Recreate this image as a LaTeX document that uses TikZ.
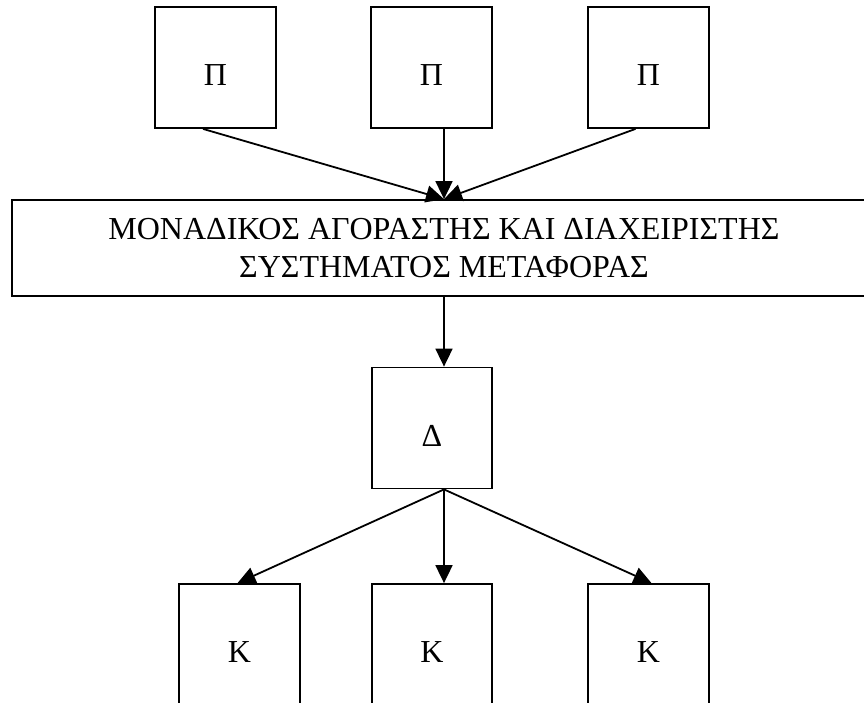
\documentclass[tikz,border=0pt]{standalone}
\usepackage{fontspec}
\setmainfont{Liberation Serif}
\usetikzlibrary{arrows.meta}
\tikzset{
  boxAll/.style={draw, line width=1.8pt, inner sep=0pt, align=center},
  boxSq/.style={minimum width=121pt, minimum height=121pt, font=\fontsize{32}{38}\selectfont, text height=36pt, text depth=0pt},
  boxMid/.style={minimum width=120pt},
  boxWide/.style={minimum width=864pt, minimum height=96pt, font=\fontsize{32}{38}\selectfont},
  link/.style={line width=1.8pt, -{Triangle[length=18pt,width=17pt]}}
}

\begin{document}
\begin{tikzpicture}[x=1pt, y=-1pt]
  \useasboundingbox (0,0) rectangle (864,702);
  \clip (0,0) rectangle (864,702);

  \node[boxAll, boxSq] (P1) at (215.5,67.5) {Π};
  \node[boxAll, boxSq] (P2) at (431.5,67.5) {Π};
  \node[boxAll, boxSq] (P3) at (648.5,67.5) {Π};

  \node[boxAll, boxWide] (MB) at (444,248) {ΜΟΝΑΔΙΚΟΣ ΑΓΟΡΑΣΤΗΣ ΚΑΙ ΔΙΑΧΕΙΡΙΣΤΗΣ\\ΣΥΣΤΗΜΑΤΟΣ ΜΕΤΑΦΟΡΑΣ};

  \node[boxAll, boxSq, boxMid] (D) at (432,428) {Δ};

  \node[boxAll, boxSq] (K1) at (239.5,644.5) {Κ};
  \node[boxAll, boxSq, boxMid] (K2) at (432,644.5) {Κ};
  \node[boxAll, boxSq] (K3) at (648.5,644.5) {Κ};

  \coordinate (DOut) at (MB.south |- D.south);

  \draw[link] ([xshift=-12.5pt]P1.south) -- (MB.north);
  \draw[link] (P2.south -| MB.north) -- (MB.north);
  \draw[link] ([xshift=-13pt]P3.south) -- (MB.north);
  \draw[link] (MB.south) -- (MB.south |- D.north);
  \draw[link] (DOut) -- ([xshift=-2pt]K1.north);
  \draw[link] (DOut) -- (DOut |- K2.north);
  \draw[link] (DOut) -- ([xshift=3pt]K3.north);
\end{tikzpicture}
\end{document}
